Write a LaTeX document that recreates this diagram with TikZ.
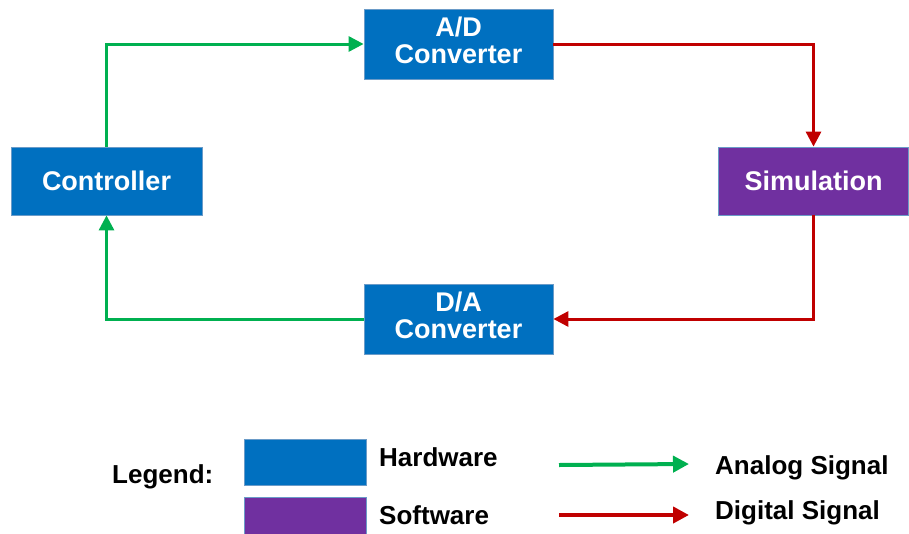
\documentclass[tikz,border=0pt]{standalone}
\usepackage{fontspec}
\setmainfont{Liberation Sans}
\usetikzlibrary{arrows.meta}
\definecolor{hwblue}{HTML}{0070C0}
\definecolor{swpurple}{HTML}{7030A0}
\definecolor{agreen}{HTML}{00B050}
\definecolor{dred}{HTML}{C00000}
\definecolor{edgeblue}{HTML}{6A9BC8}
\tikzset{
  blockbox/.style={draw=edgeblue, line width=0.8pt, inner sep=0pt, align=center,
    text=white, font=\fontsize{27}{28}\selectfont\bfseries},
  legtext/.style={inner sep=0pt, anchor=west, font=\fontsize{26}{27}\selectfont\bfseries},
  analog/.style={draw=agreen, line width=3pt, -{Triangle[length=15pt,width=15pt]}},
  digital/.style={draw=dred, line width=3pt, -{Triangle[length=15pt,width=15pt]}},
  leganalog/.style={draw=agreen, line width=4pt, -{Triangle[length=16pt,width=16pt]}},
  legdigital/.style={draw=dred, line width=4pt, -{Triangle[length=16pt,width=16pt]}}
}
\begin{document}
\begin{tikzpicture}[x=1pt,y=-1pt]
\useasboundingbox (0,0) rectangle (909,533);
\node[blockbox, fill=hwblue, minimum width=189pt, minimum height=70pt] (ad) at (458.5,44) {\raisebox{3pt}{\begin{tabular}{@{}c@{}}A/D\\[-1pt]Converter\end{tabular}}};
\node[blockbox, fill=hwblue, minimum width=191pt, minimum height=68pt] (ctrl) at (106.5,181) {Controller};
\node[blockbox, fill=swpurple, minimum width=190pt, minimum height=68pt] (sim) at (813.5,181) {Simulation};
\node[blockbox, fill=hwblue, minimum width=189pt, minimum height=70pt] (da) at (458.5,319) {\raisebox{3pt}{\begin{tabular}{@{}c@{}}D/A\\[-1pt]Converter\end{tabular}}};

\draw[analog] (ctrl.north) |- (ad.west);
\draw[digital] (ad.east) -| (sim.north);
\draw[digital] (sim.south) |- (da.east);
\draw[analog] (da.west) -| (ctrl.south);

% legend
\node[legtext] (leg) at (112,477) {Legend:};
\node[draw=edgeblue, line width=0.8pt, fill=hwblue, minimum width=122pt, minimum height=46pt, inner sep=0pt] (hwbox) at (305,462) {};
\node[draw=edgeblue, line width=0.8pt, fill=swpurple, minimum width=122pt, minimum height=46pt, inner sep=0pt] (swbox) at (305,520) {};
\node[legtext] (hwtxt) at (379,457) {Hardware};
\node[legtext] (swtxt) at (379,515) {Software};
\coordinate (a1) at (559,465);
\coordinate (a2) at (689,464);
\coordinate (d1) at (559,515);
\coordinate (d2) at (689,515);
\draw[leganalog] (a1) -- (a2);
\draw[legdigital] (d1) -- (d2);
\node[legtext] (antxt) at (715,468) {Analog Signal};
\node[legtext] (dgtxt) at (715,513) {Digital Signal};
\end{tikzpicture}
\end{document}
